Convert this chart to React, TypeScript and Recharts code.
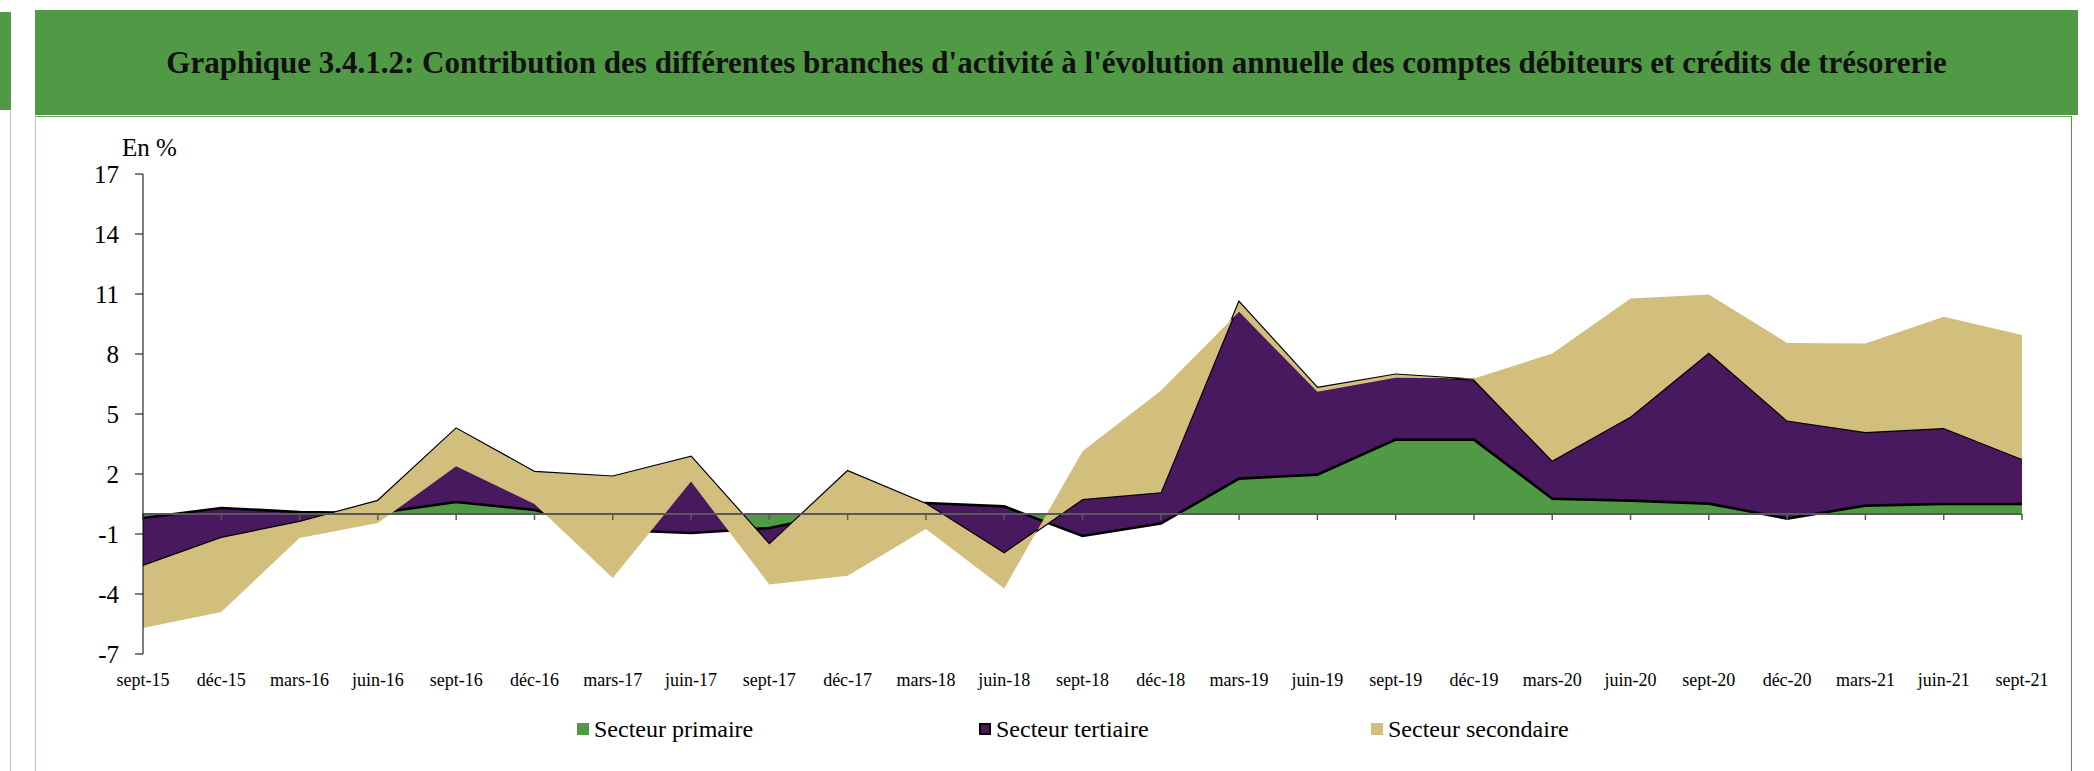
import React from 'react';
import { ComposedChart, Area, Line, XAxis, YAxis, ReferenceLine } from 'recharts';

const mois = [
  'sept-15', 'déc-15', 'mars-16', 'juin-16', 'sept-16', 'déc-16', 'mars-17', 'juin-17', 'sept-17',
  'déc-17', 'mars-18', 'juin-18', 'sept-18', 'déc-18', 'mars-19', 'juin-19', 'sept-19', 'déc-19',
  'mars-20', 'juin-20', 'sept-20', 'déc-20', 'mars-21', 'juin-21', 'sept-21',
];

const primaire = [
  -0.2, 0.3, 0.1, 0.05, 0.6, 0.2, -0.8, -0.95, -0.7, 0.1, 0.55, 0.38, -1.1, -0.48, 1.77, 1.97, 3.72,
  3.72, 0.76, 0.67, 0.52, -0.23, 0.42, 0.5, 0.5,
];
const tertiaire = [
  -2.4, -1.5, -0.5, 0.6, 3.67, 1.9, 2.67, 3.81, -0.83, 2.04, -0.05, -2.35, 1.85, 1.57, 8.82, 4.33,
  3.25, 3.0, 1.91, 4.2, 7.55, 4.91, 3.68, 3.8, 2.25,
];
const secondaire = [
  -3.1, -3.7, -0.8, -1.1, -1.88, -1.6, -5.07, -1.24, -2.0, -5.23, -1.25, -1.75, 2.39, 5.07, -0.48,
  -0.19, -0.16, 0.05, 5.35, 5.91, 2.9, 3.87, 4.43, 5.56, 6.2,
];

const yTicks = [-7, -4, -1, 2, 5, 8, 11, 14, 17];

const GREEN = '#519a45';
const PURPLE = '#48195f';
const TAN = '#d3bf7d';
const FONT = '"Liberation Serif", "Times New Roman", serif';

const legendItems = [
  { name: 'Secteur primaire', color: GREEN, border: false, left: 577 },
  { name: 'Secteur tertiaire', color: PURPLE, border: true, left: 979 },
  { name: 'Secteur secondaire', color: TAN, border: false, left: 1371 },
];

const data = mois.map((m, i) => ({
  mois: m,
  primaire: primaire[i],
  tertiaire: tertiaire[i],
  secondaire: secondaire[i],
}));

function XTick({ x, y, payload }: any) {
  return (
    <text x={x} y={y} dy={32} textAnchor="middle" fontSize={18} fontFamily={FONT} fill="#000">
      {payload.value}
    </text>
  );
}

export default function App() {
  return (
    <div style={{ position: 'absolute', left: 0, top: 0, width: 2094, height: 771, background: '#fff', overflow: 'hidden', fontFamily: FONT }}>
      {/* bout du panneau précédent */}
      <div style={{ position: 'absolute', left: 0, top: 12, width: 11, height: 98, background: GREEN }} />
      <div style={{ position: 'absolute', left: 10, top: 111, width: 1, height: 660, background: '#a9d49c' }} />

      {/* bandeau titre */}
      <div
        style={{
          position: 'absolute', left: 35, top: 10, width: 2043, height: 105, background: GREEN,
          display: 'flex', alignItems: 'center', justifyContent: 'center',
          fontWeight: 'bold', fontSize: 31, color: '#111', fontFamily: FONT,
        }}
      >
        Graphique 3.4.1.2: Contribution des différentes branches d'activité à l'évolution annuelle des comptes débiteurs et crédits de trésorerie
      </div>
      <div
        style={{
          position: 'absolute', left: 35, top: 116, width: 2035, height: 700,
          borderLeft: '1px solid #a9d49c', borderTop: '1px solid #6aaa5e', borderRight: '1px solid #4e9a44',
        }}
      />

      <div style={{ position: 'absolute', left: 122, top: 135, fontSize: 25, lineHeight: '25px', color: '#000', fontFamily: FONT }}>En %</div>

      <div style={{ position: 'absolute', left: 0, top: 0 }}>
        <ComposedChart width={2094} height={771} data={data} margin={{ top: 174, right: 72, bottom: 87, left: 0 }}>
          <XAxis
            dataKey="mois"
            scale="point"
            padding={{ left: 0, right: 0 }}
            height={30}
            axisLine={false}
            tickLine={false}
            tickSize={0}
            tickMargin={0}
            interval={0}
            tick={<XTick />}
          />
          <YAxis
            width={143}
            domain={[-7, 17]}
            ticks={yTicks}
            interval={0}
            allowDataOverflow
            axisLine={{ stroke: '#000', strokeWidth: 1 }}
            tickLine={{ stroke: '#000', strokeWidth: 1 }}
            tickSize={8}
            tickMargin={16}
            tick={{ fontSize: 25, fontFamily: FONT, fill: '#000' }}
          />
          <Area
            type="linear"
            dataKey="primaire"
            stackId="s"
            fill={GREEN}
            fillOpacity={1}
            stroke="none"
            dot={false}
            activeDot={false}
            isAnimationActive={false}
            zIndex={100}
          />
          <Area
            type="linear"
            dataKey="tertiaire"
            stackId="s"
            fill={PURPLE}
            fillOpacity={1}
            stroke="#000"
            strokeWidth={2.4}
            dot={false}
            activeDot={false}
            isAnimationActive={false}
            zIndex={101}
          />
          <Line
            type="linear"
            dataKey="primaire"
            stroke="#000"
            strokeWidth={2.6}
            dot={false}
            activeDot={false}
            isAnimationActive={false}
            zIndex={102}
          />
          <Area
            type="linear"
            dataKey="secondaire"
            stackId="s"
            fill={TAN}
            fillOpacity={1}
            stroke="none"
            dot={false}
            activeDot={false}
            isAnimationActive={false}
            zIndex={103}
          />
          <ReferenceLine y={0} stroke="#595959" strokeWidth={2} zIndex={200} />
          {mois.map((m) => (
            <ReferenceLine
              key={m}
              segment={[{ x: m, y: 0 }, { x: m, y: -0.3 }]}
              stroke="#595959"
              strokeWidth={1.5}
              zIndex={200}
            />
          ))}
        </ComposedChart>
      </div>

      {legendItems.map((it) => (
        <div
          key={it.name}
          style={{ position: 'absolute', left: it.left, top: 714, height: 30, display: 'flex', alignItems: 'center', fontSize: 24, color: '#000', whiteSpace: 'nowrap', fontFamily: FONT }}
        >
          <span
            style={{
              display: 'inline-block', width: 12, height: 12, boxSizing: 'border-box', background: it.color,
              border: it.border ? '2px solid #000' : 'none', marginRight: 5,
            }}
          />
          {it.name}
        </div>
      ))}
    </div>
  );
}
